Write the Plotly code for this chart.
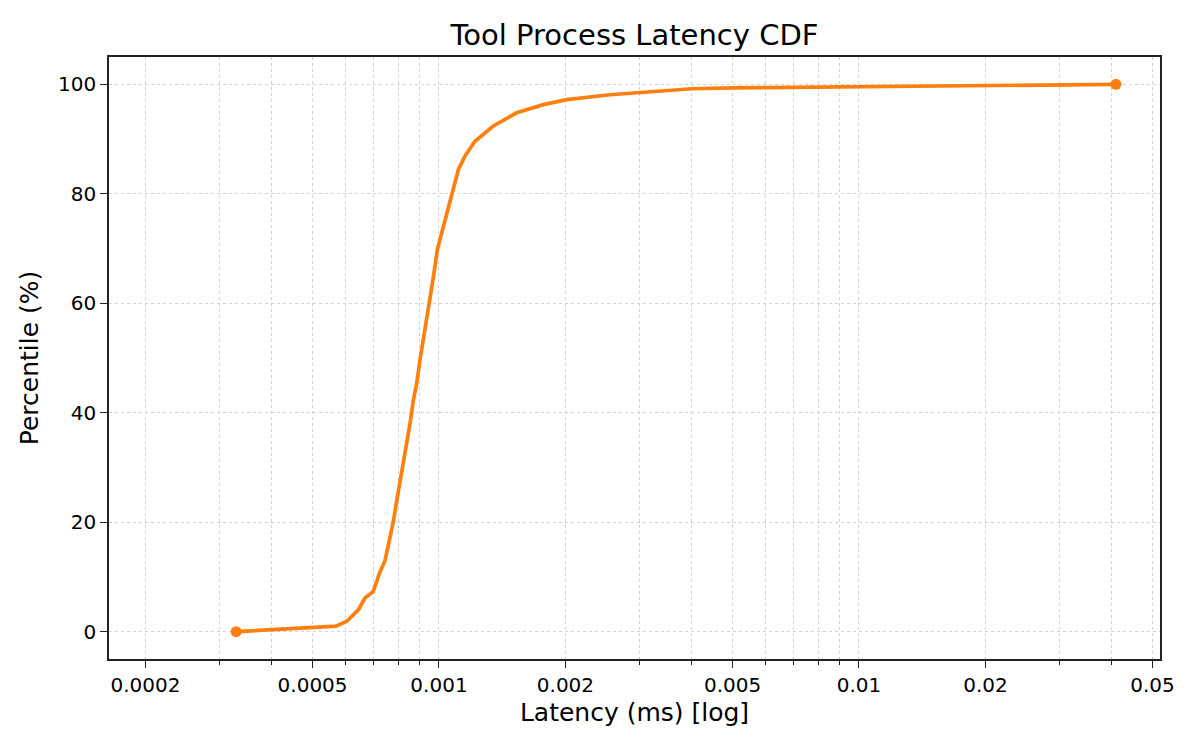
import plotly.graph_objects as go

# Latency (ms) and cumulative percentile
latency_ms = [
    0.000329, 0.000569, 0.000603, 0.000643, 0.000667, 0.000697, 0.000711,
    0.000720, 0.000744, 0.000760, 0.000778, 0.000796, 0.000815, 0.000834,
    0.000853, 0.000869, 0.000885, 0.000901, 0.000918, 0.000943, 0.000970,
    0.000991, 0.001015, 0.001039, 0.001072, 0.001112, 0.001153, 0.001218,
    0.001347, 0.001531, 0.001772, 0.002014, 0.002553, 0.00355, 0.0040,
    0.0050, 0.0100, 0.0200, 0.0409,
]
percentile = [
    0.0, 1.0, 1.9, 4.0, 6.2, 7.3, 9.2,
    10.5, 13.0, 16.0, 20.0, 24.6, 28.9, 33.8,
    38.0, 42.3, 45.4, 49.6, 53.3, 59.4, 64.9,
    69.8, 72.8, 75.9, 80.2, 84.4, 86.9, 89.6,
    92.4, 94.8, 96.3, 97.2, 98.1, 98.9, 99.2,
    99.35, 99.6, 99.8, 100.0,
]

x_tick_vals = [0.0002, 0.0005, 0.001, 0.002, 0.005, 0.01, 0.02, 0.05]
x_tick_text = ["0.0002", "0.0005", "0.001", "0.002", "0.005", "0.01", "0.02", "0.05"]
x_minor_vals = [0.0003, 0.0004, 0.0006, 0.0007, 0.0008, 0.0009,
                0.003, 0.004, 0.006, 0.007, 0.008, 0.009,
                0.03, 0.04]
y_tick_vals = [0, 20, 40, 60, 80, 100]

orange = "#ff7f0e"
font_name = "DejaVu Sans"
grid_col = "#d3d3d3"

# the page puts the plot 8px in from the corner, so margins are shifted by that
fig = go.Figure()
fig.add_trace(go.Scatter(x=latency_ms, y=percentile, mode="lines",
                         line=dict(color=orange, width=3.7), showlegend=False))
# endpoints get a dot
fig.add_trace(go.Scatter(x=[latency_ms[0], latency_ms[-1]], y=[percentile[0], percentile[-1]],
                         mode="markers", marker=dict(color=orange, size=11), showlegend=False))

fig.update_layout(
    width=1200, height=750,
    margin=dict(l=101, r=48, t=49, b=99),
    paper_bgcolor="white", plot_bgcolor="white",
    font=dict(family=font_name, size=20, color="black"),
    title=dict(text="Tool Process Latency CDF", x=(101 + 1152) / 2 / 1200, xanchor="center",
               y=1 - 27 / 750, yanchor="middle", yref="container",
               font=dict(size=29, color="black")),
)

fig.update_xaxes(
    type="log",
    range=[-3.7857, -1.2833],
    tickvals=x_tick_vals, ticktext=x_tick_text,
    ticks="outside", ticklen=7, tickwidth=1.3, tickcolor="#222222",
    showgrid=True, gridcolor=grid_col, griddash="dot", gridwidth=1,
    minor=dict(tickvals=x_minor_vals, ticks="outside", ticklen=4, tickwidth=1, tickcolor="#222222",
               showgrid=True, gridcolor=grid_col, griddash="dot", gridwidth=1),
    showline=True, linecolor="#222222", linewidth=1.5, mirror=True,
    zeroline=False,
    title=dict(text="Latency (ms) [log]", font=dict(size=25), standoff=8),
)
fig.update_yaxes(
    range=[-5, 105],
    tickvals=y_tick_vals,
    ticks="outside", ticklen=7, tickwidth=1.3, tickcolor="#222222",
    showgrid=True, gridcolor=grid_col, griddash="dot", gridwidth=1,
    showline=True, linecolor="#222222", linewidth=1.5, mirror=True,
    zeroline=False,
    title=dict(text="Percentile (%)", font=dict(size=25), standoff=12),
)

fig.write_html("out.html")
